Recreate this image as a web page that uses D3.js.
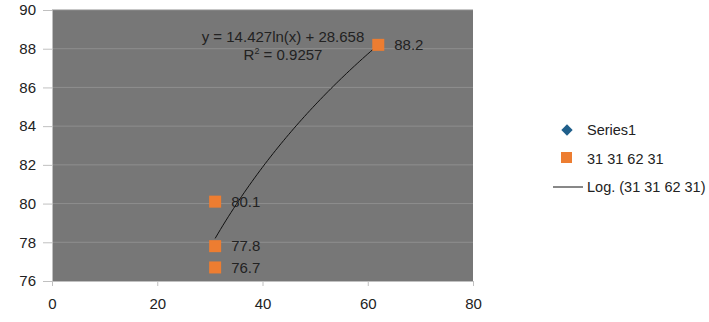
<!DOCTYPE html>
<html><head><meta charset="utf-8">
<script src="https://cdn.jsdelivr.net/npm/d3@7"></script>
<style>body{margin:0;background:#fff;} svg{display:block;font-family:"Liberation Sans",Arial,sans-serif;}</style>
</head><body>
<svg id="c" width="709" height="322"></svg>
<script>
const xValues = [31, 31, 62, 31];
const yValues = [76.7, 77.8, 88.2, 80.1];
const series1 = [];
const xTicks = [0, 20, 40, 60, 80];
const yTicks = [76, 78, 80, 82, 84, 86, 88, 90];
const trendA = 14.427, trendB = 28.658;
const eqText = "y = 14.427ln(x) + 28.658";
const r2Value = "0.9257";
const legendLabels = ["Series1", "31 31 62 31", "Log. (31 31 62 31)"];

const svg = d3.select("#c");
const x = d3.scaleLinear().domain([0, 80]).range([52, 473]);
const y = d3.scaleLinear().domain([76, 90]).range([281, 10]);

svg.append("rect").attr("x", x(0)).attr("y", y(90)).attr("width", x(80)-x(0)).attr("height", y(76)-y(90)).attr("fill", "#777777");

// gridlines
svg.append("g").selectAll("line").data(yTicks.filter(d=>d>76)).join("line")
  .attr("x1", x(0)).attr("x2", x(80)).attr("y1", d=>y(d)).attr("y2", d=>y(d))
  .attr("stroke", "#8e8e8e").attr("stroke-width", 1);

const yAxis = svg.append("g").attr("transform", `translate(${x(0)},0)`)
  .call(d3.axisLeft(y).tickValues(yTicks).tickSize(9).tickPadding(7).tickFormat(d3.format("d")));
const xAxis = svg.append("g").attr("transform", `translate(0,${y(76)})`)
  .call(d3.axisBottom(x).tickValues(xTicks).tickSize(5).tickPadding(12).tickFormat(d3.format("d")));
[yAxis, xAxis].forEach(a => {
  a.selectAll("path,line").attr("stroke", "#c0c0c0");
  a.selectAll("text").attr("fill", "#222").style("font-size", "15px");
});

// trendline
const tx = d3.range(31, 62.01, 0.5);
svg.append("path").datum(tx)
  .attr("d", d3.line().x(d=>x(d)).y(d=>y(trendA*Math.log(d)+trendB)))
  .attr("fill", "none").attr("stroke", "#111").attr("stroke-width", 1);

// points
const pts = xValues.map((v,i)=>({x:v, y:yValues[i]}));
svg.append("g").selectAll("rect").data(pts).join("rect")
  .attr("x", d=>x(d.x)-6).attr("y", d=>y(d.y)-6).attr("width", 12).attr("height", 12)
  .attr("fill", "#ed7d31");
svg.append("g").selectAll("text").data(pts).join("text")
  .attr("x", d=>x(d.x)+16).attr("y", d=>y(d.y)).attr("dy", "0.35em")
  .attr("fill", "#222").style("font-size", "15px").text(d=>d.y.toFixed(1));

// equation
const eq = svg.append("g").attr("fill", "#222").style("font-size", "15px");
eq.append("text").attr("x", 283).attr("y", 42).attr("text-anchor", "middle").text(eqText);
const r2 = eq.append("text").attr("x", 283).attr("y", 60).attr("text-anchor", "middle");
r2.append("tspan").text("R");
r2.append("tspan").attr("dy", -6).style("font-size", "9px").text("2");
r2.append("tspan").attr("dy", 6).text(" = " + r2Value);

// legend
const lg = svg.append("g").style("font-size", "14.5px").attr("fill", "#222");
lg.append("rect").attr("x", -4).attr("y", -4).attr("width", 8).attr("height", 8)
  .attr("transform", "translate(567,130) rotate(45)").attr("fill", "#1f5f8b");
lg.append("rect").attr("x", 561).attr("y", 152).attr("width", 11).attr("height", 11).attr("fill", "#ed7d31");
lg.append("line").attr("x1", 553).attr("x2", 583).attr("y1", 187).attr("y2", 187).attr("stroke", "#111");
legendLabels.forEach((t,i)=>{
  lg.append("text").attr("x", 587).attr("y", 130 + i*28.5).attr("dy", "0.35em").text(t);
});
</script>
</body></html>
